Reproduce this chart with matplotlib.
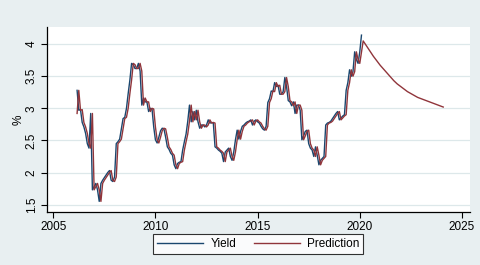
"""
Yield vs one-step prediction with forecast (Stata-like look).
"""

import matplotlib
matplotlib.use("Agg")
import matplotlib.pyplot as plt
import numpy as np
import pandas as pd

# monthly yield, % (starts 2006m3)
yield_start = "2006-03"
yield_pct = [
    3.28, 2.97, 2.98, 2.78, 2.71, 2.61, 2.45, 2.38, 2.92, 1.73,
    1.78, 1.83, 1.73, 1.55, 1.83, 1.88, 1.92, 1.96, 2.00, 2.03,
    1.88, 1.86, 1.93, 2.45, 2.48, 2.52, 2.68, 2.84, 2.86, 3.00,
    3.23, 3.44, 3.70, 3.68, 3.62, 3.62, 3.70, 3.58, 3.05, 3.16,
    3.10, 3.10, 2.95, 3.00, 2.99, 2.71, 2.51, 2.46, 2.55, 2.65,
    2.69, 2.68, 2.55, 2.40, 2.36, 2.30, 2.27, 2.12, 2.06, 2.14,
    2.16, 2.17, 2.35, 2.48, 2.60, 2.80, 3.05, 2.79, 2.95, 2.82,
    2.97, 2.79, 2.69, 2.74, 2.74, 2.71, 2.74, 2.82, 2.77, 2.78,
    2.77, 2.40, 2.38, 2.35, 2.33, 2.30, 2.17, 2.32, 2.35, 2.38,
    2.25, 2.19, 2.32, 2.51, 2.66, 2.52, 2.64, 2.72, 2.74, 2.77,
    2.79, 2.80, 2.82, 2.74, 2.80, 2.82, 2.79, 2.77, 2.72, 2.68,
    2.66, 2.72, 3.09, 3.15, 3.27, 3.26, 3.40, 3.34, 3.36, 3.22,
    3.22, 3.26, 3.48, 3.34, 3.12, 3.10, 3.04, 3.10, 2.92, 3.05,
    3.05, 2.97, 2.51, 2.57, 2.64, 2.66, 2.45, 2.38, 2.35, 2.25,
    2.40, 2.27, 2.12, 2.19, 2.22, 2.25, 2.74, 2.77, 2.78, 2.80,
    2.84, 2.88, 2.92, 2.95, 2.82, 2.85, 2.88, 2.90, 3.28, 3.40,
    3.60, 3.50, 3.57, 3.88, 3.76, 3.70, 3.88, 4.14,
]

# in-sample prediction, same months as the yield
pred_in = [
    2.92, 3.28, 2.97, 2.98, 2.78, 2.71, 2.61, 2.45, 2.38, 2.92,
    1.73, 1.78, 1.83, 1.73, 1.55, 1.83, 1.88, 1.92, 1.96, 2.00,
    2.03, 1.88, 1.86, 1.93, 2.45, 2.48, 2.52, 2.68, 2.84, 2.86,
    3.00, 3.23, 3.44, 3.70, 3.68, 3.62, 3.62, 3.70, 3.58, 3.05,
    3.16, 3.10, 3.10, 2.95, 3.00, 2.99, 2.71, 2.51, 2.46, 2.55,
    2.65, 2.69, 2.68, 2.55, 2.40, 2.36, 2.30, 2.27, 2.12, 2.06,
    2.14, 2.16, 2.17, 2.35, 2.48, 2.60, 2.80, 3.05, 2.79, 2.95,
    2.82, 2.97, 2.79, 2.69, 2.74, 2.74, 2.71, 2.74, 2.82, 2.77,
    2.78, 2.77, 2.40, 2.38, 2.35, 2.33, 2.30, 2.17, 2.32, 2.35,
    2.38, 2.25, 2.19, 2.32, 2.51, 2.66, 2.52, 2.64, 2.72, 2.74,
    2.77, 2.79, 2.80, 2.82, 2.74, 2.80, 2.82, 2.79, 2.77, 2.72,
    2.68, 2.66, 2.72, 3.09, 3.15, 3.27, 3.26, 3.40, 3.34, 3.36,
    3.22, 3.22, 3.26, 3.48, 3.34, 3.12, 3.10, 3.04, 3.10, 2.92,
    3.05, 3.05, 2.97, 2.51, 2.57, 2.64, 2.66, 2.45, 2.38, 2.35,
    2.25, 2.40, 2.27, 2.12, 2.19, 2.22, 2.25, 2.74, 2.77, 2.78,
    2.80, 2.84, 2.88, 2.92, 2.95, 2.82, 2.85, 2.88, 2.90, 3.28,
    3.40, 3.60, 3.50, 3.57, 3.88, 3.76, 3.70, 3.88,
]

# out-of-sample forecast
fc_months = [
    "2020-03", "2020-05", "2020-07", "2020-09", "2020-11", "2021-01",
    "2021-03", "2021-05", "2021-07", "2021-09", "2021-11", "2022-01",
    "2022-03", "2022-05", "2022-07", "2022-09", "2022-11", "2023-01",
    "2023-03", "2023-05", "2023-07", "2023-09", "2023-11", "2024-01",
    "2024-02",
]
fc_pct = [
    4.05, 3.97, 3.89, 3.81, 3.74, 3.67, 3.61, 3.55, 3.49, 3.43,
    3.38, 3.34, 3.30, 3.26, 3.23, 3.20, 3.17, 3.15, 3.13, 3.11,
    3.09, 3.07, 3.05, 3.03, 3.02,
]

x_ticks = [2005, 2010, 2015, 2020, 2025]
y_ticks = [1.5, 2, 2.5, 3, 3.5, 4]
y_ticklabels = ["1.5", "2", "2.5", "3", "3.5", "4"]


def to_decimal(periods):
    return np.array([p.year + (p.month - 1) / 12 for p in periods])


months = to_decimal(pd.period_range(yield_start, periods=len(yield_pct), freq="M"))
fc_x = to_decimal([pd.Period(m, freq="M") for m in fc_months])
pred_x = np.concatenate([months, fc_x])
pred_y = np.concatenate([pred_in, fc_pct])

navy = "#1a476f"
maroon = "#90353b"
bg = "#e8eff1"

plt.rcParams["font.family"] = ["Liberation Sans", "DejaVu Sans"]

fig = plt.figure(figsize=(4.8, 2.65), dpi=100, facecolor=bg)
ax = fig.add_axes([0.0973, 0.2, 0.8817, 0.697])
ax.set_facecolor("white")

ax.plot(months, yield_pct, color=navy, lw=1.0, label="Yield")
ax.plot(pred_x, pred_y, color=maroon, lw=1.0, label="Prediction")

ax.set_xlim(2004.68, 2025.39)
ax.set_ylim(1.385, 4.262)
ax.set_xticks(x_ticks)
ax.set_yticks(y_ticks)
ax.set_yticklabels(y_ticklabels, rotation=90, va="center")
ax.tick_params(labelsize=8.5, length=4, width=0.8, colors="black", pad=2.5)
ax.grid(axis="y", color="#dde8ea", lw=0.9)
ax.set_axisbelow(True)

for side in ["top", "right"]:
    ax.spines[side].set_visible(False)
for side in ["left", "bottom"]:
    ax.spines[side].set_linewidth(0.9)

ax.set_ylabel("%", fontsize=8.5, labelpad=1)

leg = ax.legend(loc="upper center", bbox_to_anchor=(0.5, -0.12), ncol=2,
                fontsize=8.5, frameon=True, fancybox=False, edgecolor="black",
                handlelength=3.9, handletextpad=0.6, columnspacing=1.5,
                borderpad=0.35, borderaxespad=0)
leg.get_frame().set_linewidth(0.8)

fig.savefig("out.png", dpi=100, facecolor=bg)
